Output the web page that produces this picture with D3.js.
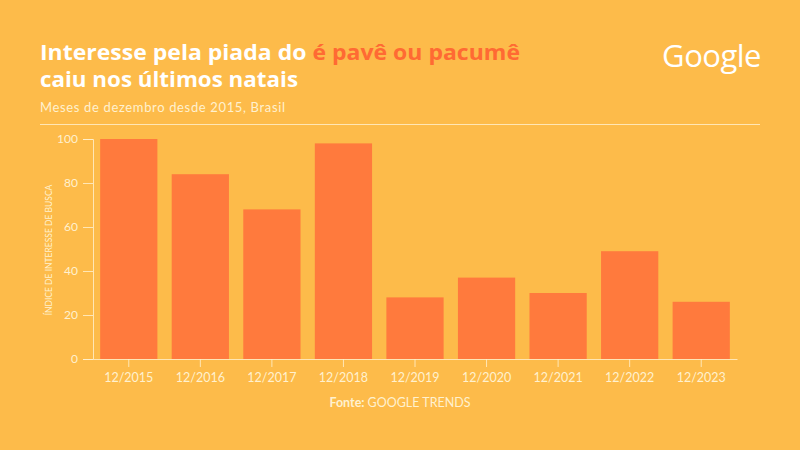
<!DOCTYPE html>
<html>
<head>
<meta charset="utf-8">
<script src="https://cdn.jsdelivr.net/npm/d3@7"></script>
<style>
  html, body { margin: 0; padding: 0; background: #fdbb4a; }
  svg { display: block; }
</style>
</head>
<body>
<div id="chart"></div>
<script>
// dados: interesse de busca em dezembro
const months = ['12/2015', '12/2016', '12/2017', '12/2018', '12/2019', '12/2020', '12/2021', '12/2022', '12/2023'];
const interest = [100, 84, 68, 98, 28, 37, 30, 49, 26];
const yTicks = [0, 20, 40, 60, 80, 100];

const W = 800, H = 450;
const bg = '#fdbb4a', barColor = '#ff7a3d', cream = '#fff1cf', accent = '#ff6a33';
const font = 'Lato, "Open Sans", sans-serif';
const headFont = '"Open Sans", sans-serif';

const svg = d3.select('#chart').append('svg')
    .attr('width', W)
    .attr('height', H)
    .style('background', bg);

// titulo
const title = svg.append('text')
    .attr('x', 40).attr('y', 60)
    .attr('fill', '#fff')
    .attr('textLength', 480)
    .attr('lengthAdjust', 'spacingAndGlyphs')
    .style('font-family', headFont)
    .style('font-weight', 700)
    .style('font-size', '21px');
title.append('tspan').text('Interesse pela piada do ');
title.append('tspan').attr('fill', accent).text('é pavê ou pacumê');

svg.append('text')
    .attr('x', 40).attr('y', 87)
    .attr('fill', '#fff')
    .attr('textLength', 258)
    .attr('lengthAdjust', 'spacingAndGlyphs')
    .style('font-family', headFont)
    .style('font-weight', 700)
    .style('font-size', '21px')
    .text('caiu nos últimos natais');

svg.append('text')
    .attr('x', 40).attr('y', 112)
    .attr('fill', cream)
    .attr('textLength', 245)
    .style('font-family', font)
    .style('font-size', '13px')
    .text('Meses de dezembro desde 2015, Brasil');

svg.append('line')
    .attr('x1', 40).attr('x2', 760)
    .attr('y1', 124.5).attr('y2', 124.5)
    .attr('stroke', cream)
    .attr('stroke-opacity', 0.8)
    .attr('stroke-width', 1);

// logo
svg.append('text')
    .attr('x', 761).attr('y', 67)
    .attr('text-anchor', 'end')
    .attr('fill', '#fff')
    .style('font-family', '"Open Sans", sans-serif')
    .style('font-size', '31px')
    .style('letter-spacing', '-0.5px')
    .text('Google');

// escalas
const x = d3.scaleBand()
    .domain(months)
    .range([93, 737])
    .paddingInner(0.2)
    .paddingOuter(0.1);

const y = d3.scaleLinear()
    .domain([0, 100])
    .range([359, 139]);

svg.append('g')
    .selectAll('rect')
    .data(interest)
    .join('rect')
    .attr('x', (d, i) => x(months[i]))
    .attr('y', d => y(d))
    .attr('width', x.bandwidth())
    .attr('height', d => y(0) - y(d))
    .attr('fill', barColor);

// eixo y
const yAxis = svg.append('g')
    .attr('transform', 'translate(93,0)')
    .call(d3.axisLeft(y).tickValues(yTicks).tickSize(10).tickPadding(5));
yAxis.select('.domain').attr('stroke', cream).attr('stroke-opacity', 0.8);
yAxis.selectAll('.tick line').attr('stroke', cream).attr('stroke-opacity', 0.8);
yAxis.selectAll('.tick text')
    .attr('fill', cream)
    .style('font-family', font)
    .style('font-size', '12px');

// eixo x
const xAxis = svg.append('g')
    .attr('transform', 'translate(0,359)')
    .call(d3.axisBottom(x).tickSizeInner(8).tickSizeOuter(0).tickPadding(6));
xAxis.select('.domain').attr('stroke', cream).attr('stroke-opacity', 0.8);
xAxis.selectAll('.tick line').attr('stroke', cream).attr('stroke-opacity', 0.8);
xAxis.selectAll('.tick text')
    .attr('fill', cream)
    .style('font-family', font)
    .style('font-size', '12.5px');

svg.append('text')
    .attr('transform', 'translate(52,250) rotate(-90)')
    .attr('text-anchor', 'middle')
    .attr('fill', cream)
    .style('font-family', font)
    .style('font-size', '8.5px')
    .text('ÍNDICE DE INTERESSE DE BUSCA');

// fonte
const src = svg.append('text')
    .attr('x', 400).attr('y', 407)
    .attr('text-anchor', 'middle')
    .attr('fill', cream)
    .style('font-family', font)
    .style('font-size', '12.5px');
src.append('tspan').style('font-weight', 700).text('Fonte: ');
src.append('tspan').text('GOOGLE TRENDS');
</script>
</body>
</html>
